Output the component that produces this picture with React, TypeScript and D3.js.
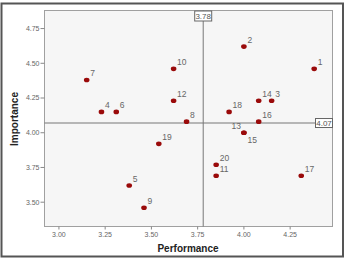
import * as d3 from "d3";

// point ids, performance (x) and importance (y)
const ids = [1, 2, 3, 4, 5, 6, 7, 8, 9, 10, 11, 12, 13, 14, 15, 16, 17, 18, 19, 20];
const performance = [4.38, 4.0, 4.15, 3.23, 3.38, 3.31, 3.15, 3.69, 3.46, 3.62, 3.85, 3.62, 4.0, 4.08, 4.0, 4.08, 4.31, 3.92, 3.54, 3.85];
const importance = [4.46, 4.62, 4.23, 4.15, 3.62, 4.15, 4.38, 4.08, 3.46, 4.46, 3.69, 4.23, 4.0, 4.23, 4.0, 4.08, 3.69, 4.15, 3.92, 3.77];
// where each label sits relative to its point
const labelSide = ["ur", "ur", "ur", "ur", "ur", "ur", "ur", "ur", "ur", "ur", "ur", "ur", "ul", "ur", "br", "ur", "ur", "ur", "ur", "ur"];

const xTicks = [3.0, 3.25, 3.5, 3.75, 4.0, 4.25];
const yTicks = [3.5, 3.75, 4.0, 4.25, 4.5, 4.75];
const meanPerformance = 3.78;
const meanImportance = 4.07;

const W = 347;
const H = 259;
const plot = { left: 44.5, right: 332.5, top: 10.5, bottom: 226.5 };
const font = "'Liberation Sans', Arial, sans-serif";

export default function App() {
  const x = d3.scaleLinear().domain([2.922, 4.479]).range([plot.left, plot.right]);
  const y = d3.scaleLinear().domain([3.325, 4.88]).range([plot.bottom, plot.top]);
  const fmt = d3.format(".2f");

  const pts = ids.map((id, i) => ({ id, x: performance[i], y: importance[i], side: labelSide[i] }));

  const labelPos = (side: string) => {
    if (side === "br") return { dx: 3.5, dy: 10, anchor: "start" };
    if (side === "ul") return { dx: -3, dy: -4, anchor: "end" };
    return { dx: 3.5, dy: -4, anchor: "start" };
  };

  const vx = x(meanPerformance);
  const hy = y(meanImportance);

  return (
    <svg width={W} height={H} style={{ position: "absolute", left: 0, top: 0, background: "#fff" }} fontFamily={font}>
      <rect x={1.5} y={3.5} width={341.5} height={253} fill="#fff" stroke="#555" strokeWidth={2} />
      <rect
        x={plot.left}
        y={plot.top}
        width={plot.right - plot.left}
        height={plot.bottom - plot.top}
        fill="#f6f6f6"
        stroke="#a0a0a0"
        strokeWidth={1}
      />

      {/* y axis */}
      {yTicks.map((t) => (
        <g key={"y" + t} transform={`translate(0,${y(t)})`}>
          <line x1={plot.left - 4} x2={plot.left} stroke="#888" />
          <text x={plot.left - 5} dy="0.35em" textAnchor="end" fontSize={7} fill="#666">
            {fmt(t)}
          </text>
        </g>
      ))}

      {/* x axis */}
      {xTicks.map((t) => (
        <g key={"x" + t} transform={`translate(${x(t)},0)`}>
          <line y1={plot.bottom} y2={plot.bottom + 3} stroke="#888" />
          <text y={plot.bottom + 10} textAnchor="middle" fontSize={7} fill="#666">
            {fmt(t)}
          </text>
        </g>
      ))}

      {/* reference lines */}
      <line x1={vx} x2={vx} y1={plot.top} y2={plot.bottom} stroke="#777" strokeWidth={1} />
      <line x1={plot.left} x2={plot.right} y1={hy} y2={hy} stroke="#777" strokeWidth={1} />

      {pts.map((p) => {
        const lp = labelPos(p.side);
        return (
          <g key={p.id} transform={`translate(${x(p.x)},${y(p.y)})`}>
            <ellipse rx={2.8} ry={2.3} fill="#9a0a0a" />
            <text x={lp.dx} y={lp.dy} textAnchor={lp.anchor} fontSize={8.5} fill="#666">
              {p.id}
            </text>
          </g>
        );
      })}

      {/* reference value boxes */}
      <g transform={`translate(${vx},${plot.top + 5.5})`}>
        <rect x={-8.5} y={-5} width={17} height={10} fill="#fff" stroke="#666" />
        <text textAnchor="middle" dy="0.35em" fontSize={8} fill="#555">
          {fmt(meanPerformance)}
        </text>
      </g>
      <g transform={`translate(${plot.right - 8.5},${hy})`}>
        <rect x={-8.5} y={-4.5} width={17} height={9} fill="#fff" stroke="#666" />
        <text textAnchor="middle" dy="0.35em" fontSize={8} fill="#555">
          {fmt(meanImportance)}
        </text>
      </g>

      {/* axis titles */}
      <text x={188} y={252} textAnchor="middle" fontSize={10} fontWeight="bold" fill="#222">
        Performance
      </text>
      <text transform={`translate(17.5,119) rotate(-90)`} textAnchor="middle" fontSize={10} fontWeight="bold" fill="#222">
        Importance
      </text>
    </svg>
  );
}
